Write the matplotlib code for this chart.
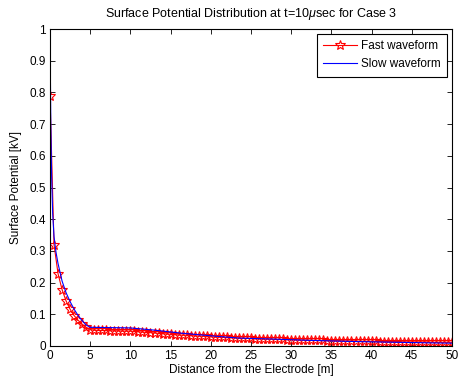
import numpy as np
import matplotlib.pyplot as plt

plt.rcParams['font.family'] = ['Liberation Sans', 'DejaVu Sans']
plt.rcParams['mathtext.fontset'] = 'custom'
plt.rcParams['mathtext.rm'] = 'Liberation Sans'
plt.rcParams['mathtext.it'] = 'Liberation Sans:italic'

# Fast waveform: samples every 0.5 m
x_fast = np.arange(0, 50.5, 0.5)
v_fast = [0.79, 0.32, 0.228, 0.178, 0.142, 0.116, 0.096, 0.081, 0.069, 0.059,
          0.052, 0.050, 0.049,
          0.049, 0.049, 0.048, 0.048, 0.048, 0.047, 0.047, 0.047,
          0.046, 0.045, 0.044, 0.043, 0.042, 0.041, 0.040, 0.039, 0.038, 0.037,
          0.036, 0.035, 0.034, 0.034, 0.033, 0.032, 0.031, 0.031, 0.030, 0.029,
          0.028, 0.028, 0.027, 0.027, 0.026, 0.026, 0.025, 0.025, 0.024, 0.024,
          0.023, 0.023, 0.022, 0.022, 0.022, 0.021, 0.021, 0.021, 0.020, 0.020,
          0.020, 0.019, 0.019, 0.019, 0.018, 0.018, 0.018, 0.018, 0.017, 0.017,
          0.017, 0.017, 0.016, 0.016, 0.016, 0.016, 0.015, 0.015, 0.015, 0.015,
          0.015, 0.014, 0.014, 0.014, 0.014, 0.014, 0.014, 0.013, 0.013, 0.013,
          0.013, 0.013, 0.013, 0.013, 0.012, 0.012, 0.012, 0.012, 0.012, 0.012]

# Slow waveform (line only)
x_slow = [0, 0.1, 0.2, 0.33, 0.5, 0.75, 1.0, 1.5, 2.0, 2.5, 3.0, 3.5, 4.0,
          4.5, 5.0, 7.5, 10.0, 13.0, 16.5, 21.0, 23.5, 27.5, 32.0, 38.0, 47.0, 50.0]
v_slow = [1.0, 0.70, 0.54, 0.42, 0.345, 0.295, 0.26, 0.205, 0.168, 0.140, 0.116,
          0.096, 0.080, 0.066, 0.059, 0.058, 0.057, 0.050, 0.040, 0.030, 0.025,
          0.022, 0.018, 0.014, 0.010, 0.009]

fig = plt.figure(figsize=(4.6, 3.79), dpi=100)
ax = fig.add_axes([50/460, 33/379, 402/460, 317/379])

ax.plot(x_fast, v_fast, color='red', lw=0.8, marker='*', ms=7,
        mfc='none', mec='red', mew=0.8, label='Fast waveform')
ax.plot(x_slow, v_slow, color='blue', lw=0.8, label='Slow waveform')

ax.set_xlim(0, 50)
ax.set_ylim(0, 1)
ax.set_xticks(np.arange(0, 51, 5))
ax.set_yticks(np.arange(0, 1.01, 0.1))
ax.set_yticklabels(['0', '0.1', '0.2', '0.3', '0.4', '0.5', '0.6', '0.7', '0.8', '0.9', '1'])
ax.tick_params(direction='in', top=True, right=True, labelsize=8.5, length=3.5, width=0.6, pad=3)
for s in ax.spines.values():
    s.set_linewidth(0.8)

ax.set_xlabel('Distance from the Electrode [m]', fontsize=8.5, labelpad=1)
ax.set_ylabel('Surface Potential [kV]', fontsize=8.5, labelpad=5)
ax.set_title('Surface Potential Distribution at t=10$\\mu$sec for Case 3', fontsize=9, pad=9)

leg = ax.legend(loc='upper right', fontsize=8.5, fancybox=False, edgecolor='black',
                framealpha=1, borderaxespad=0.42, handlelength=2.9, handletextpad=0.3,
                borderpad=0.55, labelspacing=0.5)
leg.get_frame().set_linewidth(0.8)

fig.savefig('out.png', dpi=100)
